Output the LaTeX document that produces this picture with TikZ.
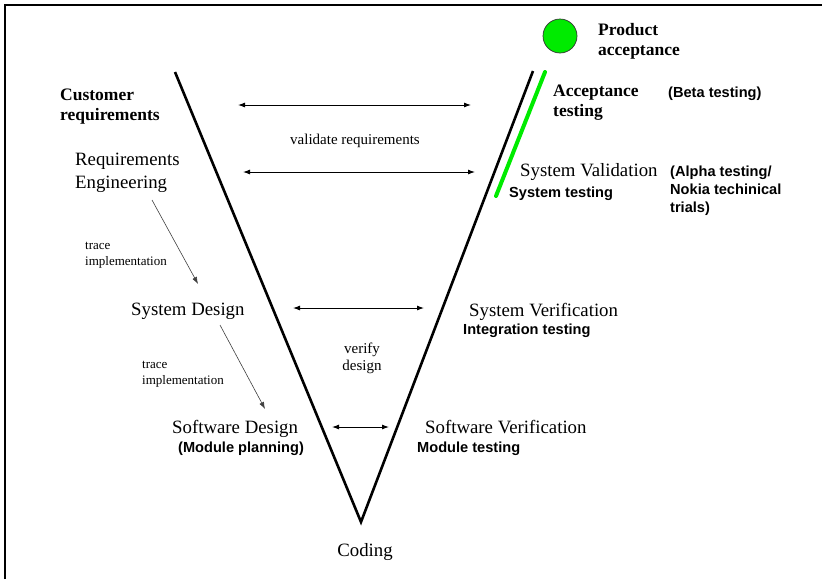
\documentclass[tikz,border=0pt]{standalone}
\usepackage{fontspec}
\setmainfont{Liberation Serif}
\setsansfont{Liberation Sans}
\usetikzlibrary{arrows.meta}
\definecolor{brightgreen}{RGB}{0,235,0}
\begin{document}
\begin{tikzpicture}[x=1pt,y=-1pt,
  % multi-line text nodes sit on the baseline of their last line
  txt/.style={inner sep=0pt,anchor=base west,align=left},
  phase/.style={txt,font=\fontsize{18.8}{23}\selectfont},
  stake/.style={txt,font=\fontsize{17.5}{20}\bfseries\selectfont},
  testname/.style={txt,font=\fontsize{14.6}{18}\sffamily\bfseries\selectfont},
  note/.style={txt,font=\fontsize{13}{16}\selectfont},
  mid/.style={txt,font=\fontsize{15}{17}\selectfont,align=center,anchor=base},
  vleg/.style={line width=2.6pt},
  link/.style={line width=0.9pt,{Latex[length=7pt,width=5pt]}-{Latex[length=7pt,width=5pt]}},
  trace/.style={line width=0.6pt,draw=black!75,-{Latex[length=7pt,width=5pt]}}]
\useasboundingbox (0,0) rectangle (822,579);
% frame
\draw[line width=1.8pt] (5,579) -- (5,5) -- (822,5);

% the V
\coordinate (ltop) at (175,72);
\coordinate (rtop) at (533,71);
\coordinate (apex) at (361,522);
\draw[vleg,line join=miter] (ltop) -- (apex) -- (rtop);
\coordinate (gtop) at (545,72);
\coordinate (gbot) at (496,196);
\draw[line width=4pt,brightgreen,line cap=round] (gtop) -- (gbot);
\node[circle,minimum size=34pt,inner sep=0pt,fill=brightgreen,draw=black!80,line width=0.7pt] (goal) at (560,36) {};

% left side
\node[stake] (cust) at (60,120) {Customer\\requirements};
\node[phase] (reqeng) at (75,188) {Requirements\\Engineering};
\node[note] (tr1) at (85,265) {trace\\implementation};
\node[phase] (sysdes) at (131,315) {System Design};
\node[note] (tr2) at (142,384) {trace\\implementation};
\node[phase] (swdes) at (172,433) {Software Design};
\node[testname] (modplan) at (178,452) {(Module planning)};
\node[phase,anchor=base] (coding) at (365,556) {Coding};

% right side
\node[stake] (prodacc) at (598,55) {Product\\acceptance};
\node[stake] (acctest) at (553,116) {Acceptance\\testing};
\node[testname] (beta) at (668,97) {(Beta testing)};
\node[phase] (sysval) at (520,176) {System Validation};
\node[testname] (systest) at (509,197) {System testing};
\node[testname] (alpha) at (670,212) {(Alpha testing/\\Nokia techinical\\trials)};
\node[phase] (sysver) at (469,316) {System Verification};
\node[testname] (integ) at (463,334) {Integration testing};
\node[phase] (swver) at (425,433) {Software Verification};
\node[testname] (modtest) at (417,452) {Module testing};

% middle labels
\node[mid] (valreq) at (355,144) {validate requirements};
\node[mid] (verdes) at (362,370) {verify\\design};

% horizontal links across the V
\coordinate (v1a) at (238,105); \coordinate (v1b) at (471,105);
\coordinate (v2a) at (243,172); \coordinate (v2b) at (475,172);
\coordinate (s1a) at (293,308); \coordinate (s1b) at (424,308);
\coordinate (s2a) at (332,427); \coordinate (s2b) at (389,427);
\draw[link] (v1a) -- (v1b);
\draw[link] (v2a) -- (v2b);
\draw[link] (s1a) -- (s1b);
\draw[link] (s2a) -- (s2b);

% trace arrows
\coordinate (t1a) at (152,200); \coordinate (t1b) at (198,284);
\coordinate (t2a) at (220,325); \coordinate (t2b) at (265,409);
\draw[trace] (t1a) -- (t1b);
\draw[trace] (t2a) -- (t2b);
\end{tikzpicture}
\end{document}
